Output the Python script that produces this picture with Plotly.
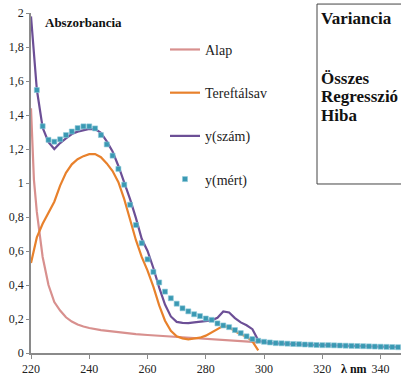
import plotly.graph_objects as go

# ---------------- data ----------------
lam_meas = list(range(222, 348, 2))
y_meas = [1.547, 1.334, 1.254, 1.243, 1.257, 1.282, 1.303, 1.323, 1.333, 1.333,
          1.321, 1.282, 1.227, 1.161, 1.083, 0.990, 0.872, 0.753, 0.646, 0.551,
          0.477, 0.415, 0.361, 0.322, 0.290, 0.263, 0.245, 0.228, 0.217, 0.203,
          0.195, 0.174, 0.162, 0.152, 0.135, 0.117, 0.098, 0.082, 0.072, 0.066,
          0.062, 0.058, 0.057, 0.055, 0.053, 0.052, 0.050, 0.049, 0.047, 0.046,
          0.046, 0.045, 0.044, 0.043, 0.042, 0.041, 0.040, 0.039, 0.038, 0.037,
          0.036, 0.035, 0.034]

lam_calc = list(range(220, 348, 2))
y_calc = [1.98, 1.55, 1.325, 1.24, 1.20, 1.235, 1.262, 1.288, 1.302, 1.312,
          1.318, 1.317, 1.295, 1.245, 1.185, 1.10, 1.005, 0.905, 0.795, 0.672,
          0.600, 0.500, 0.385, 0.285, 0.215, 0.183, 0.177, 0.176, 0.180, 0.184,
          0.188, 0.192, 0.207, 0.244, 0.238, 0.205, 0.180, 0.163, 0.140, 0.075,
          0.062, 0.058, 0.057, 0.055, 0.053, 0.052, 0.050, 0.049, 0.047, 0.046,
          0.046, 0.045, 0.044, 0.043, 0.042, 0.041, 0.040, 0.039, 0.038, 0.037,
          0.036, 0.035, 0.034, 0.034]

lam_tpa = list(range(220, 300, 2))
y_tpa = [0.53, 0.68, 0.76, 0.825, 0.89, 0.985, 1.06, 1.11, 1.14, 1.158,
         1.17, 1.17, 1.152, 1.115, 1.07, 1.005, 0.905, 0.785, 0.665, 0.565,
         0.485, 0.39, 0.28, 0.19, 0.13, 0.098, 0.086, 0.080, 0.084, 0.090,
         0.102, 0.120, 0.140, 0.160, 0.152, 0.128, 0.110, 0.096, 0.068, 0.015]

lam_base = [220, 221, 222, 224, 226, 228, 230, 232, 234, 236, 238, 240, 244, 248,
            252, 256, 260, 264, 268, 272, 276, 280, 284, 288, 292, 296, 298]
y_base = [1.44, 1.02, 0.83, 0.565, 0.40, 0.30, 0.25, 0.21, 0.185, 0.168, 0.156,
          0.147, 0.135, 0.126, 0.118, 0.111, 0.106, 0.102, 0.098, 0.094, 0.090,
          0.086, 0.082, 0.077, 0.072, 0.066, 0.063]

y_ticks = [0, 0.2, 0.4, 0.6, 0.8, 1.0, 1.2, 1.4, 1.6, 1.8, 2.0]
y_ticklabels = ["0", "0,2", "0,4", "0,6", "0,8", "1", "1,2", "1,4", "1,6", "1,8", "2"]
x_ticks = [220, 240, 260, 280, 300, 320, 340]

box_lines = ["Variancia", "Összes", "Regresszió", "Hiba"]

# ---------------- figure ----------------
W, H = 401, 376
ML, MR, MT, MB = 31, 0, 13, 21
PW, PH = W - ML - MR, H - MT - MB


def px_x(px):
    return (px - ML) / PW


def px_y(py):
    return (H - MB - py) / PH


SERIF = "'Liberation Serif', 'Times New Roman', serif"

fig = go.Figure()
fig.add_trace(go.Scatter(x=lam_base, y=y_base, mode="lines", name="Alap",
                         legendgroup="a", line=dict(color="#D8908E", width=2.2)))
fig.add_trace(go.Scatter(x=lam_tpa, y=y_tpa, mode="lines", name="Tereftálsav",
                         legendgroup="b", line=dict(color="#E8812C", width=2.2)))
fig.add_trace(go.Scatter(x=lam_calc, y=y_calc, mode="lines", name="y(szám)",
                         legendgroup="c", line=dict(color="#6C4F96", width=2.2)))
fig.add_trace(go.Scatter(x=lam_meas, y=y_meas, mode="markers", name="y(mért)",
                         legendgroup="d",
                         marker=dict(symbol="square", size=5, color="#3A99B3",
                                     line=dict(width=0.6, color="#8CC8D8"))))

fig.update_layout(
    width=W, height=H, autosize=False,
    margin=dict(l=ML, r=MR, t=MT, b=MB, pad=0),
    paper_bgcolor="white", plot_bgcolor="white",
    font=dict(family=SERIF, size=12, color="#222"),
    showlegend=True,
    legend=dict(x=px_x(165), y=px_y(34), xanchor="left", yanchor="top",
                bgcolor="rgba(0,0,0,0)", font=dict(family=SERIF, size=14, color="#222"),
                tracegroupgap=22, traceorder="grouped", itemwidth=30),
    xaxis=dict(range=[220, 347], tickvals=x_ticks, showgrid=False, zeroline=False,
               showline=True, linecolor="#8a8a8a", linewidth=1.5,
               ticks="outside", ticklen=4, tickcolor="#8a8a8a",
               tickfont=dict(family=SERIF, size=12, color="#222")),
    yaxis=dict(range=[0, 2], tickvals=y_ticks, ticktext=y_ticklabels,
               showgrid=False, zeroline=False,
               showline=True, linecolor="#8a8a8a", linewidth=1.5,
               ticks="outside", ticklen=3, tickcolor="#8a8a8a",
               tickfont=dict(family=SERIF, size=12, color="#222")),
)

# chart title and axis label
fig.add_annotation(text="<b>Abszorbancia</b>", xref="paper", yref="paper",
                   x=px_x(43), y=px_y(23), xanchor="left", yanchor="middle",
                   showarrow=False, font=dict(family=SERIF, size=13, color="#111"))
fig.add_annotation(text="<b>λ nm</b>", xref="paper", yref="paper",
                   x=px_x(339), y=px_y(371), xanchor="left", yanchor="middle",
                   showarrow=False, font=dict(family=SERIF, size=12, color="#111"))

# statistics box on the right
fig.add_shape(type="rect", xref="paper", yref="paper",
              x0=px_x(317), x1=px_x(430), y0=px_y(185), y1=px_y(4),
              line=dict(color="#444", width=1), fillcolor="rgba(0,0,0,0)")
box_y = [19, 79, 97, 116]
for txt, yy in zip(box_lines, box_y):
    fig.add_annotation(text=f"<b>{txt}</b>", xref="paper", yref="paper",
                       x=px_x(319), y=px_y(yy), xanchor="left", yanchor="middle",
                       showarrow=False, font=dict(family=SERIF, size=17, color="#111"))

fig.write_html("out.html",
               config={"displayModeBar": False},
               post_script="document.body.style.margin='0';"
                           "document.body.style.overflow='hidden';")
